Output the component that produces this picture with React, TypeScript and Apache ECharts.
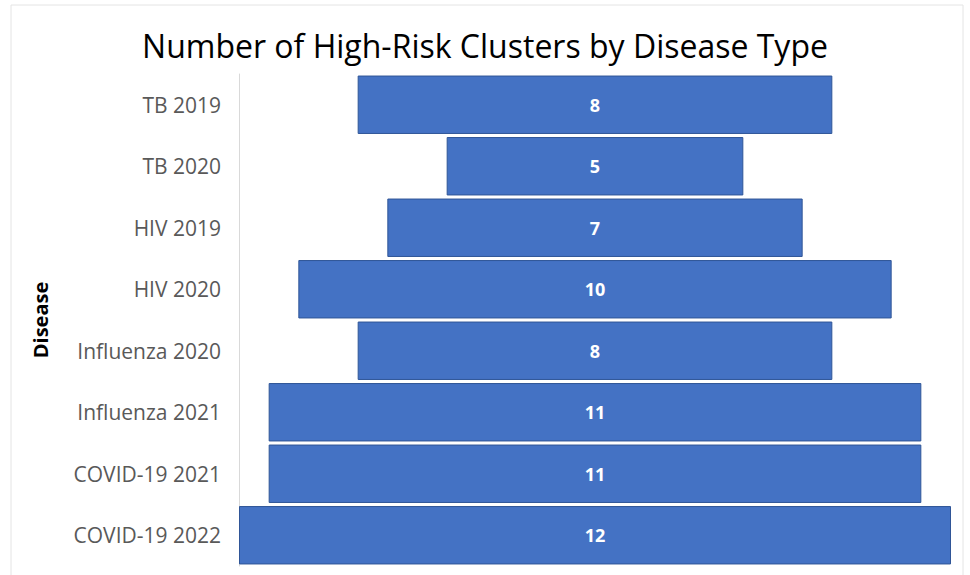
import React, { useEffect, useRef } from "react";
import * as echarts from "echarts";

const categories = [
  "TB 2019",
  "TB 2020",
  "HIV 2019",
  "HIV 2020",
  "Influenza 2020",
  "Influenza 2021",
  "COVID-19 2021",
  "COVID-19 2022",
];
const clusterCounts = [8, 5, 7, 10, 8, 11, 11, 12];
const maxCount = 12;

export default function App() {
  const ref = useRef<HTMLDivElement>(null);
  useEffect(() => {
    document.body.style.margin = "0";
    if (!ref.current) return;
    const chart = echarts.init(ref.current, null, { renderer: "svg" });
    const offsets = clusterCounts.map((v) => (maxCount - v) / 2);
    chart.setOption({
      animation: false,
      backgroundColor: "#ffffff",
      title: {
        text: "Number of High-Risk Clusters by Disease Type",
        left: "center",
        top: 24,
        textStyle: {
          fontFamily: "Open Sans",
          fontSize: 32,
          fontWeight: "normal",
          color: "#000000",
        },
      },
      graphic: [
        {
          type: "rect",
          shape: { x: 11, y: 5, width: 952, height: 580 },
          style: { fill: "none", stroke: "#e4e4e4", lineWidth: 1 },
          silent: true,
        },
      ],
      grid: { left: 239, right: 19, top: 74, bottom: 9, containLabel: false },
      xAxis: {
        type: "value",
        min: 0,
        max: maxCount,
        show: false,
      },
      yAxis: {
        type: "category",
        data: categories,
        inverse: true,
        name: "Disease",
        nameLocation: "middle",
        nameRotate: 90,
        nameGap: 189,
        nameTextStyle: {
          fontFamily: "Open Sans",
          fontSize: 20,
          fontWeight: "bold",
          color: "#000000",
        },
        axisLine: { show: true, lineStyle: { color: "#d9d9d9", width: 1 } },
        axisTick: { show: false },
        axisLabel: {
          margin: 18,
          fontFamily: "Open Sans",
          fontSize: 21,
          color: "#595959",
        },
        splitLine: { show: false },
      },
      series: [
        {
          type: "bar",
          stack: "funnel",
          data: offsets,
          itemStyle: { color: "transparent" },
          silent: true,
          barCategoryGap: "5%",
        },
        {
          type: "bar",
          stack: "funnel",
          data: clusterCounts,
          barCategoryGap: "5%",
          itemStyle: { color: "#4472C4", borderColor: "#2F5597", borderWidth: 1 },
          label: {
            show: true,
            position: "inside",
            color: "#ffffff",
            fontFamily: "Open Sans",
            fontWeight: "bold",
            fontSize: 18,
          },
        },
      ],
    });
    return () => chart.dispose();
  }, []);
  return <div ref={ref} style={{ width: 970, height: 575 }} />;
}
